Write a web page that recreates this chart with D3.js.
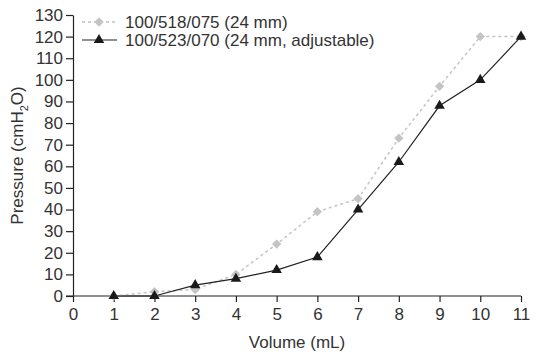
<!DOCTYPE html>
<html>
<head>
<meta charset="utf-8">
<script src="https://cdn.jsdelivr.net/npm/d3@7"></script>
<style>
	body { margin: 0; background: #fff; }
	text { font-family: "Liberation Sans", Arial, sans-serif; fill: #333; }
</style>
</head>
<body>
<div id="chart"></div>
<script>
// data
var volumes = [1, 2, 3, 4, 5, 6, 7, 8, 9, 10, 11];
var pressure518 = [0, 2, 3, 10, 24, 39, 45, 73, 97, 120, 120];
var pressure523 = [0, 0, 5, 8, 12, 18, 40, 62, 88, 100, 120];
var seriesNames = ["100/518/075 (24 mm)", "100/523/070 (24 mm, adjustable)"];
var xTicks = [0, 1, 2, 3, 4, 5, 6, 7, 8, 9, 10, 11];
var yTicks = [0, 10, 20, 30, 40, 50, 60, 70, 80, 90, 100, 110, 120, 130];

var width = 536, height = 355;

var svg = d3.select("#chart")
	.append("svg")
	.attr("width", width)
	.attr("height", height);

var x = d3.scaleLinear()
	.domain([0, 11])
	.range([73, 521]);

var y = d3.scaleLinear()
	.domain([0, 130])
	.range([296, 15]);

// x axis (line runs a bit left of the y axis)
var xAxis = svg.append("g")
	.attr("transform", "translate(0," + y(0) + ")")
	.call(d3.axisBottom(x).tickValues(xTicks).tickSize(6).tickPadding(6).tickSizeOuter(0));
xAxis.select(".domain").attr("d", "M66,0H" + x(11));

var yAxis = svg.append("g")
	.attr("transform", "translate(" + x(0) + ",0)")
	.call(d3.axisLeft(y).tickValues(yTicks).tickSize(7).tickPadding(3).tickSizeOuter(0));

svg.selectAll(".domain, .tick line")
	.attr("stroke", "#222")
	.attr("stroke-width", 1.2);
svg.selectAll(".tick text")
	.style("font-size", "17px")
	.attr("fill", "#333");

// axis titles
svg.append("text")
	.attr("x", (x(0) + x(11)) / 2)
	.attr("y", 348)
	.attr("text-anchor", "middle")
	.style("font-size", "17px")
	.text("Volume (mL)");

var yTitle = svg.append("text")
	.attr("transform", "translate(23," + (y(0) + y(130)) / 2 + ")rotate(-90)")
	.attr("text-anchor", "middle")
	.style("font-size", "17px");
yTitle.append("tspan").text("Pressure (cmH");
yTitle.append("tspan").attr("dy", 5).style("font-size", "11px").text("2");
yTitle.append("tspan").attr("dy", -5).text("O)");

var line = d3.line()
	.x(function (d) { return x(d[0]); })
	.y(function (d) { return y(d[1]); });

var data518 = volumes.map(function (v, i) { return [v, pressure518[i]]; });
var data523 = volumes.map(function (v, i) { return [v, pressure523[i]]; });

var diamond = d3.symbol().type(d3.symbolDiamond2).size(55);
var triangle = d3.symbol().type(d3.symbolTriangle).size(48);

// gray dashed series
svg.append("path")
	.datum(data518)
	.attr("d", line)
	.attr("fill", "none")
	.attr("stroke", "#c4c4c4")
	.attr("stroke-width", 1.5)
	.attr("stroke-dasharray", "3,3");

svg.selectAll("mydiamonds")
	.data(data518)
	.enter()
	.append("path")
	.attr("d", diamond)
	.attr("transform", function (d) { return "translate(" + x(d[0]) + "," + y(d[1]) + ")"; })
	.attr("fill", "#c4c4c4");

// black solid series
svg.append("path")
	.datum(data523)
	.attr("d", line)
	.attr("fill", "none")
	.attr("stroke", "#222")
	.attr("stroke-width", 1.2);

svg.selectAll("mytriangles")
	.data(data523)
	.enter()
	.append("path")
	.attr("d", triangle)
	.attr("transform", function (d) { return "translate(" + x(d[0]) + "," + y(d[1]) + ")"; })
	.attr("fill", "#1a1a1a");

// legend
var legend = svg.append("g");
[0, 1].forEach(function (i) {
	var ly = 22 + i * 18;
	legend.append("line")
		.attr("x1", 82).attr("x2", 117)
		.attr("y1", ly).attr("y2", ly)
		.attr("stroke", i === 0 ? "#c4c4c4" : "#222")
		.attr("stroke-width", i === 0 ? 1.5 : 1.2)
		.attr("stroke-dasharray", i === 0 ? "3,3" : null);
	legend.append("path")
		.attr("d", i === 0 ? diamond : triangle)
		.attr("transform", "translate(99," + ly + ")")
		.attr("fill", i === 0 ? "#c4c4c4" : "#1a1a1a");
	legend.append("text")
		.attr("x", 125)
		.attr("y", ly)
		.attr("dy", "0.35em")
		.style("font-size", "17px")
		.text(seriesNames[i]);
});
</script>
</body>
</html>
